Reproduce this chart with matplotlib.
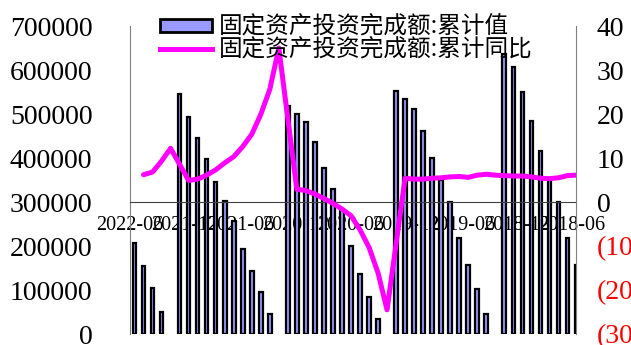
import numpy as np
import matplotlib
matplotlib.use('Agg')
import matplotlib.pyplot as plt
from matplotlib.patches import Patch
from matplotlib.lines import Line2D
from matplotlib.ticker import FuncFormatter

plt.rcParams['font.family'] = ['Liberation Serif', 'Noto Sans CJK SC']

# 月份（倒序，1月无数据）
meses = ['2022-05', '2022-04', '2022-03', '2022-02',
         '2021-12', '2021-11', '2021-10', '2021-09', '2021-08', '2021-07',
         '2021-06', '2021-05', '2021-04', '2021-03', '2021-02',
         '2020-12', '2020-11', '2020-10', '2020-09', '2020-08', '2020-07',
         '2020-06', '2020-05', '2020-04', '2020-03', '2020-02',
         '2019-12', '2019-11', '2019-10', '2019-09', '2019-08', '2019-07',
         '2019-06', '2019-05', '2019-04', '2019-03', '2019-02',
         '2018-12', '2018-11', '2018-10', '2018-09', '2018-08', '2018-07',
         '2018-06', '2018-05', '2018-04']

# 累计值（亿元）
acumulado = [205964, 153544, 104872, 50763,
             544547, 494082, 445823, 397827, 346031, 302283,
             255900, 193917, 143804, 95994, 45236,
             518907, 499218, 482000, 436530, 378000, 329214,
             281603, 199194, 136824, 84145, 33323,
             551478, 533718, 510880, 461204, 400322, 349325,
             299100, 217932, 155747, 101871, 44849,
             635636, 607000, 549000, 485000, 417000, 352000,
             301000, 218000, 156000]

# 累计同比（%）
yoy = [6.2, 6.8, 9.3, 12.2,
       4.9, 5.2, 6.1, 7.3, 8.9, 10.3,
       12.6, 15.4, 19.9, 25.6, 35.0,
       2.9, 2.6, 1.8, 0.8, -0.3, -1.6,
       -3.1, -6.3, -10.3, -16.1, -24.5,
       5.4, 5.2, 5.2, 5.4, 5.5, 5.7,
       5.8, 5.6, 6.1, 6.3, 6.1,
       5.9, 5.9, 5.7, 5.4, 5.3, 5.5,
       6.0, 6.1, 7.0]

etiquetas = ['2022-06', '2021-12', '2021-06', '2020-12', '2020-06',
             '2019-12', '2019-06', '2018-12', '2018-06']

# posición de cada mes en el eje (2022-06 -> 0)
def posicion(m):
    a, b = m.split('-')
    return (2022 * 12 + 6) - (int(a) * 12 + int(b))

x = np.array([posicion(m) for m in meses], dtype=float)

fig = plt.figure(figsize=(6.31, 3.45), dpi=100)
ax = fig.add_axes([130 / 631, 1 - 334 / 345, 446 / 631, 308 / 345])
ax2 = ax.twinx()

ax.bar(x, acumulado, width=0.4, color='#9999FF', edgecolor='black', linewidth=1.6, zorder=2)
# la línea va desplazada un mes respecto a las barras, como en el original
ax2.plot(x + 1, yoy, color='#FF00FF', linewidth=3.6, solid_joinstyle='round', solid_capstyle='round')

ax.set_xlim(0.52, 49.95)
ax.set_ylim(0, 700000)
ax2.set_ylim(-30, 40)

ax.set_xticks(np.linspace(0.5, 49.5, len(etiquetas)))
ax.set_xticklabels(etiquetas)
ax.set_yticks(np.arange(0, 700001, 100000))
ax.yaxis.set_major_formatter(FuncFormatter(lambda v, p: f'{int(v)}'))

ticks_der = np.arange(-30, 41, 10)
ax2.set_yticks(ticks_der)
ax2.set_yticklabels([f'({abs(t)})' if t < 0 else f'{t}' for t in ticks_der])
for t, lab in zip(ticks_der, ax2.get_yticklabels()):
    lab.set_color('#FF0000' if t < 0 else 'black')

ax.tick_params(axis='x', length=0, pad=10, labelsize=14.5)
ax.tick_params(axis='y', length=0, pad=27, labelsize=20)
ax2.tick_params(axis='y', length=0, pad=15, labelsize=20)

for s in ['top', 'right']:
    ax.spines[s].set_visible(False)
ax.spines['left'].set_color('#808080')
ax.spines['bottom'].set_position(('data', 300000))
ax.spines['bottom'].set_color('#404040')
ax.spines['bottom'].set_linewidth(0.8)
for s in ['top', 'left', 'bottom']:
    ax2.spines[s].set_visible(False)
ax2.spines['right'].set_color('#808080')

handles = [Patch(facecolor='#9999FF', edgecolor='black', linewidth=2),
           Line2D([0], [0], color='#FF00FF', linewidth=3.6)]
fig.legend(handles, ['固定资产投资完成额:累计值', '固定资产投资完成额:累计同比'],
           loc='upper left', bbox_to_anchor=(160 / 631, 1 - 16 / 345),
           frameon=False, prop={'family': 'Noto Sans CJK SC', 'size': 17},
           handlelength=2.2, handleheight=0.5, handletextpad=0.3,
           borderpad=0, borderaxespad=0, labelspacing=0.0)

fig.savefig('out.png', dpi=100)
